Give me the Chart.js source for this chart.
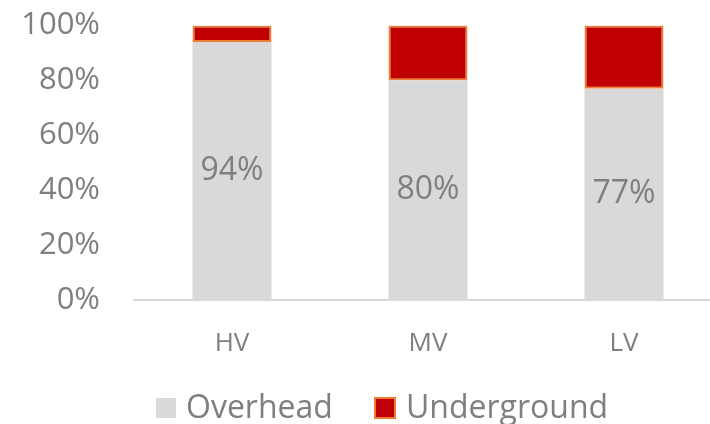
<!DOCTYPE html>
<html>
<head>
<meta charset="utf-8">
<script src="https://cdn.jsdelivr.net/npm/chart.js@4.4.1/dist/chart.umd.min.js"></script>
<style>
  html, body { margin:0; padding:0; background:#fff; overflow:hidden; }
  #wrap { position:relative; width:710px; height:424px; overflow:hidden; }
  #chart { position:absolute; left:0; top:-27px; }
  .lg { position:absolute; font-family:"Open Sans", sans-serif; font-size:32px; color:#7f7f7f; line-height:32px; white-space:nowrap; }
  .sw { position:absolute; box-sizing:border-box; }
</style>
</head>
<body>
<div id="wrap">
  <canvas id="chart" width="724" height="451" style="width:724px;height:451px"></canvas>
  <div class="sw" style="left:156px;top:398px;width:20px;height:20px;background:#d9d9d9"></div>
  <div class="lg" style="left:186px;top:390px">Overhead</div>
  <div class="sw" style="left:374px;top:397px;width:22px;height:22px;background:#c00000;border:2px solid #ed7d31"></div>
  <div class="lg" style="left:406px;top:390px">Underground</div>
</div>
<script>
// Data
const categories = ['HV', 'MV', 'LV'];
const overhead = [94, 80, 77];
const underground = [6, 20, 23];
const yTicks = [0, 20, 40, 60, 80, 100];

const grey = '#7f7f7f';

// draws the % label in the middle of each overhead segment
const midLabels = {
  id: 'midLabels',
  afterDatasetsDraw(chart){
    const ctx = chart.ctx;
    const meta = chart.getDatasetMeta(0);
    ctx.save();
    ctx.font = '32px "Open Sans", sans-serif';
    ctx.fillStyle = grey;
    ctx.textAlign = 'center';
    ctx.textBaseline = 'middle';
    meta.data.forEach((bar, i) => {
      ctx.fillText(overhead[i] + '%', bar.x, (bar.y + bar.base) / 2);
    });
    ctx.restore();
  }
};

new Chart(document.getElementById('chart'), {
  type: 'bar',
  data: {
    labels: categories,
    datasets: [
      { label: 'Overhead', data: overhead, backgroundColor: '#d9d9d9', borderWidth: 0 },
      { label: 'Underground', data: underground, backgroundColor: '#c00000', borderColor: '#ed7d31', borderWidth: 2, borderSkipped: false }
    ]
  },
  options: {
    responsive: false,
    animation: false,
    layout: { padding: { top: 0, bottom: 64, left: 0, right: 2 } },
    datasets: { bar: { categoryPercentage: 1, barPercentage: 0.403 } },
    scales: {
      x: {
        stacked: true,
        grid: { display: false, drawTicks: false },
        border: { display: true, color: '#d9d9d9', width: 2 },
        ticks: { color: grey, font: { family: 'Open Sans', size: 26 }, padding: 28 },
        afterFit: s => { s.height = 60; }
      },
      y: {
        stacked: true,
        min: 0, max: 100,
        afterBuildTicks: s => { s.ticks = yTicks.map(v => ({ value: v })); },
        grid: { display: false, drawTicks: false },
        border: { display: false },
        ticks: { color: grey, font: { family: 'Open Sans', size: 31 }, padding: 34, callback: v => v + '%' },
        afterFit: s => { s.width = 134; }
      }
    },
    plugins: { legend: { display: false }, tooltip: { enabled: false } }
  },
  plugins: [midLabels]
});
</script>
</body>
</html>
